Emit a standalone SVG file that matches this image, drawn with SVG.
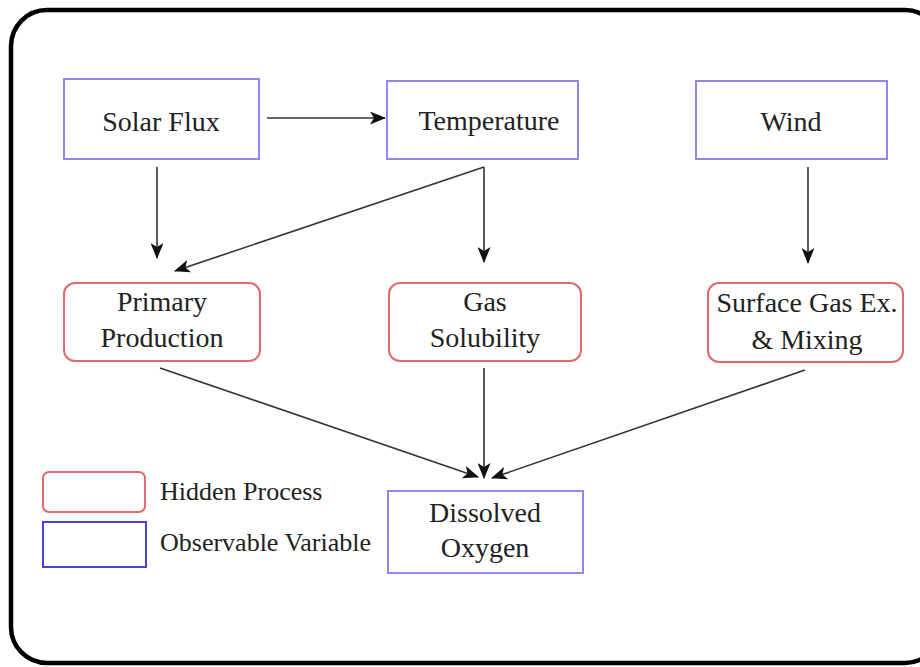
<svg xmlns="http://www.w3.org/2000/svg" width="920" height="667" viewBox="0 0 920 667">
<style>
text{font-family:"Liberation Serif","Times New Roman",serif;fill:#222;text-anchor:middle;font-size:28px}
.obs{fill:#fff;stroke:#8f86ee;stroke-width:2}
.hid{fill:#fff;stroke:#e06a6a;stroke-width:2}
.leg{font-size:26px;text-anchor:start}
.c{stroke:#333;stroke-width:1.6;fill:none;marker-end:url(#ah)}
</style>
<defs>
<marker id="ah" viewBox="0 0 16 13" refX="15" refY="6.5" markerWidth="16" markerHeight="13" markerUnits="userSpaceOnUse" orient="auto">
<path d="M0,0 L16,6.5 L0,13 L4,6.5 Z" fill="#111"/>
</marker>
</defs>
<rect width="920" height="667" fill="#fff"/>
<rect x="11" y="10" width="930" height="653" rx="36" fill="#fff" stroke="#000" stroke-width="4.5"/>
<g id="connectors">
<line class="c" x1="267" y1="118" x2="385" y2="118"/>
<line class="c" x1="157" y1="167" x2="157" y2="258"/>
<line class="c" x1="484" y1="167" x2="175" y2="271"/>
<line class="c" x1="484" y1="167" x2="484" y2="262"/>
<line class="c" x1="808" y1="167" x2="808" y2="263"/>
<line class="c" x1="160" y1="368" x2="478" y2="477"/>
<line class="c" x1="484" y1="368" x2="484" y2="478"/>
<line class="c" x1="805" y1="370" x2="492" y2="478"/>
</g>
<g id="solar-flux"><rect class="obs" x="64" y="79" width="195" height="80"/><text x="161" y="131">Solar Flux</text></g>
<g id="temperature"><rect class="obs" x="387" y="81" width="191" height="78"/><text x="489" y="130">Temperature</text></g>
<g id="wind"><rect class="obs" x="696" y="81" width="191" height="78"/><text x="791" y="131">Wind</text></g>
<g id="primary-production"><rect class="hid" x="64" y="283" width="196" height="78" rx="11"/><text x="162" y="311">Primary</text><text x="162" y="347">Production</text></g>
<g id="gas-solubility"><rect class="hid" x="389" y="283" width="192" height="78" rx="11"/><text x="485" y="311">Gas</text><text x="485" y="347">Solubility</text></g>
<g id="surface-gas"><rect class="hid" x="708" y="283" width="195" height="79" rx="11"/><text x="807" y="312">Surface Gas Ex.</text><text x="807" y="349">&amp; Mixing</text></g>
<g id="dissolved-oxygen"><rect class="obs" x="388" y="491" width="195" height="82"/><text x="485" y="522">Dissolved</text><text x="485" y="557">Oxygen</text></g>
<g id="legend">
<rect x="43" y="472" width="102" height="40" rx="6" fill="#fff" stroke="#e06a6a" stroke-width="2"/>
<rect x="43" y="522" width="103" height="45" fill="#fff" stroke="#4a3ee6" stroke-width="2"/>
<text class="leg" x="160" y="500">Hidden Process</text>
<text class="leg" x="160" y="551">Observable Variable</text>
</g>
</svg>
